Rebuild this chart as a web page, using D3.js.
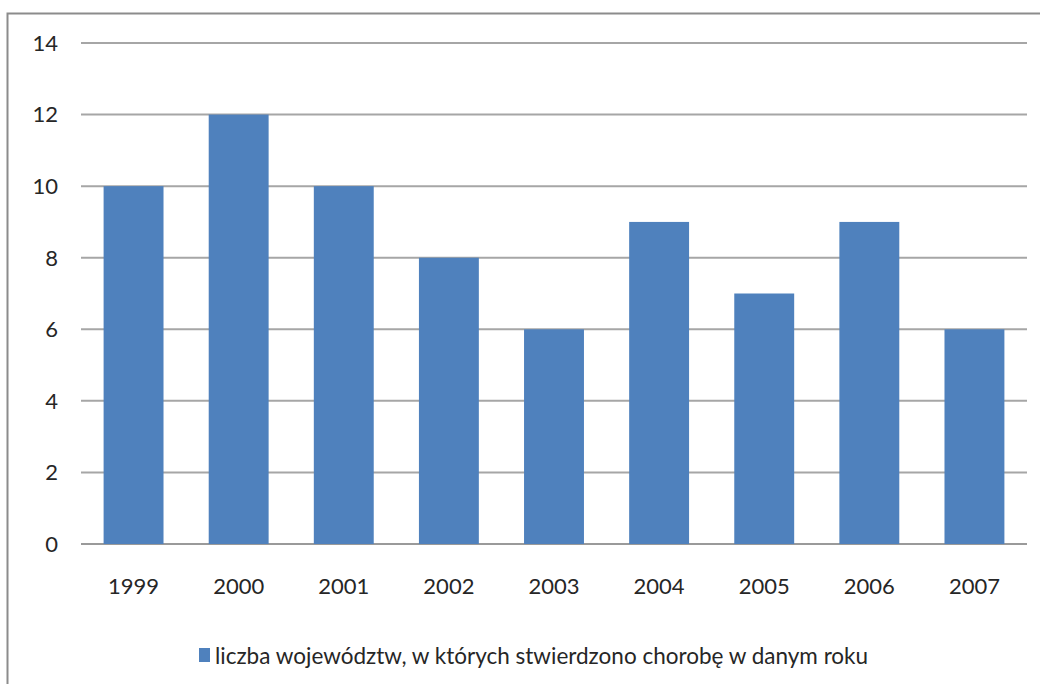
<!DOCTYPE html>
<html><head><meta charset="utf-8">
<script src="https://cdn.jsdelivr.net/npm/d3@7"></script>
<style>html,body{margin:0;padding:0;background:#fff;}svg{display:block;font-family:Lato,"Open Sans",sans-serif;}</style>
</head><body>
<svg id="c" width="1040" height="684"></svg>
<script>
const categories = ["1999","2000","2001","2002","2003","2004","2005","2006","2007"];
const values = [10,12,10,8,6,9,7,9,6];
const yTicks = [0,2,4,6,8,10,12,14];
const seriesName = "liczba województw, w których stwierdzono chorobę w danym roku";

(function(){
const svg = d3.select("#c");
svg.append("rect").attr("x",0).attr("y",0).attr("width",1040).attr("height",684).attr("fill","#fff");
svg.append("path").attr("d","M7.5,684 L7.5,13.5 L1040,13.5").attr("fill","none").attr("stroke","#8c8c8c").attr("stroke-width",2);

const pL=81, pR=1027, pT=43, pB=544;
const x = d3.scaleBand().domain(categories).range([pL,pR]).paddingInner(0.43).paddingOuter(0.215);
const y = d3.scaleLinear().domain([0,14]).range([pB,pT]);

svg.append("g").selectAll("line").data(yTicks).join("line")
  .attr("x1",pL).attr("x2",pR)
  .attr("y1",d=>y(d)).attr("y2",d=>y(d))
  .attr("stroke",d=>d===0?"#9a9a9a":"#a6a6a6").attr("stroke-width",2);

svg.append("g").selectAll("rect").data(values).join("rect")
  .attr("x",(d,i)=>x(categories[i]))
  .attr("width",x.bandwidth())
  .attr("y",d=>y(d))
  .attr("height",d=>y(0)-y(d))
  .attr("fill","#4f81bd");

svg.append("g").selectAll("text").data(yTicks).join("text")
  .attr("x",58).attr("y",d=>y(d)).attr("dy","0.36em")
  .attr("text-anchor","end").attr("font-size",22).attr("fill","#262626")
  .text(d=>d);

svg.append("g").selectAll("text").data(categories).join("text")
  .attr("x",d=>x(d)+x.bandwidth()/2).attr("y",586).attr("dy","0.36em")
  .attr("text-anchor","middle").attr("font-size",22).attr("fill","#262626")
  .text(d=>d);

const lg = svg.append("g");
lg.append("rect").attr("x",199).attr("y",648).attr("width",11).attr("height",14).attr("fill","#4f81bd");
lg.append("text").attr("x",215).attr("y",656).attr("dy","0.36em").attr("font-size",22.5).attr("fill","#262626").text(seriesName);
})();
</script>
</body></html>
